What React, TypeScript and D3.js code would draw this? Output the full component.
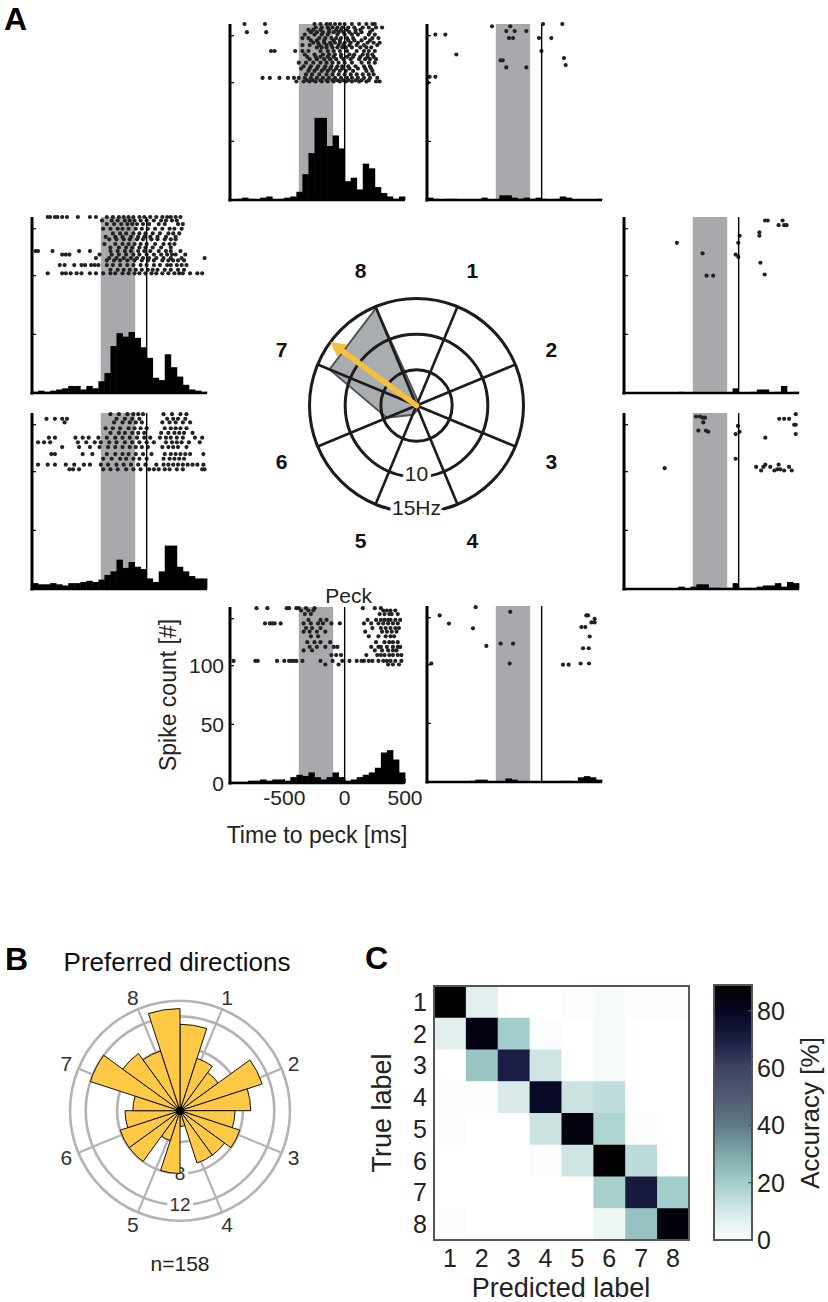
import React from "react";
import * as d3 from "d3";

const FONT = "'Liberation Sans', Arial, Helvetica, sans-serif";

// ---------------- Panel A data ----------------
const timeStart = -950;
const timeEnd = 500;
const binWidth = 50;
const cueWindow = [-380, -95];
const countMax = 150;
const rasterBase = 100;
const yTicksSmall = [50, 100, 140];
const yTicksLabeled = [0, 50, 100];
const xTicksLabeled = [-500, 0, 500];

const histDir1 = [2,1,0,1,1,0,0,0,0,2,0,0,4,4,2,1,2,1,2,1,0,1,3,2,0,0,0,0,1];
const histDir2 = [0,0,0,0,0,0,0,0,0,1,0,0,0,0,0,0,0,0,4,0,0,1,3,3,0,1,6,0,1];
const histDir3 = [0,0,0,0,0,0,0,0,0,2,0,2,4,4,1,1,0,1,5,0,1,1,2,3,3,5,2,6,5];
const histDir4 = [0,0,0,0,0,0,0,1,2,2,0,0,0,3,2,0,0,0,0,0,0,0,1,1,0,4,5,4,2];
const histDir5 = [1,1,1,2,2,3,2,3,3,2,5,7,6,9,5,3,5,9,5,2,3,5,7,9,13,26,28,20,9];
const histDir6 = [5,4,4,5,4,3,5,5,6,7,6,8,12,15,25,18,23,19,17,9,6,15,37,37,19,15,11,9,9];
const histDir7 = [1,2,1,2,3,4,6,6,3,6,4,10,17,40,51,48,52,47,39,30,13,11,33,22,14,7,3,2,1];
const histDir8 = [0,1,2,1,0,2,3,0,1,2,3,7,22,40,70,70,46,55,44,16,19,9,31,27,11,6,3,1,3];

// raster: [trial number, spike times (ms)]
const rasterDir8: [number, number[]][] = [
  [50, [-830,-660,-250,-200,-150,-120,-80,-40,0,60,120,180,230,250]],
  [47, [-240,-190,-140,-100,-60,-20,30,80,150,200,260,310]],
  [45, [-300,-260,-200,-130,-70,-30,20,90,130,230]],
  [43, [-810,-650,-280,-230,-180,-130,-90,-50,-10,40,90,140,210]],
  [41, [-330,-250,-190,-140,-60,0,60,110,200,250]],
  [38, [-350,-300,-210,-160,-110,-70,-30,20,70,170,230,280]],
  [36, [-280,-230,-170,-90,-40,30,80,140,210]],
  [34, [-260,-220,-170,-120,-80,-40,0,50,110,190,240,290]],
  [32, [-350,-290,-210,-150,-110,-50,-10,40,100,160,270]],
  [30, [-230,-190,-150,-100,-60,-20,10,60,130,180,220]],
  [27, [-610,-580,-410,-350,-300,-200,-140,-90,-40,20,100,160,200,250]],
  [24, [-330,-250,-180,-130,-80,-30,40,80,150,190,230]],
  [22, [-310,-240,-200,-140,-90,-30,20,70,130,190,240]],
  [20, [-290,-230,-170,-120,-70,-10,50,120,170,210,260]],
  [17, [-380,-320,-260,-200,-150,-100,-50,0,60,140,200,250]],
  [14, [-340,-280,-220,-160,-110,-60,-20,30,90,160,210]],
  [12, [-360,-290,-230,-170,-120,-70,-20,40,110,170,220]],
  [10, [-300,-250,-190,-140,-90,-40,10,70,180,230]],
  [7, [-320,-270,-210,-150,-100,-50,0,50,100,150,200,240]],
  [4, [-680,-620,-540,-470,-420,-380,-330,-280,-230,-180,-130,-80,-30,20,60,110,160,210,270]],
  [2, [-310,-260,-200,-150,-100,-60,-10,30,90,140,200]],
  [1, [-400,-340,-290,-240,-190,-140,-90,-40,10,60,120,180,260,290]],
];
const rasterDir7: [number, number[]][] = [
  [50, [-820,-800,-760,-740,-700,-660,-570,-470,-420,-330,-280,-230,-190,-150,-110,-60,-20,30,80,130,170,200,240,280]],
  [47, [-370,-290,-240,-180,-140,-100,-50,0,60,120,160,210,250]],
  [44, [-330,-270,-210,-160,-120,-80,-30,20,100,150,260,300]],
  [40, [-360,-300,-240,-200,-150,-90,-40,10,70,130,190,230,290]],
  [36, [-280,-220,-170,-110,-60,-10,50,110,180,220,270]],
  [33, [-340,-260,-200,-130,-70,-20,30,90,160,240]],
  [31, [-310,-250,-190,-140,-80,-30,40,90,150,200,240]],
  [27, [-350,-260,-200,-150,-100,-50,0,70,140,190,230]],
  [24, [-300,-230,-170,-120,-60,-10,50,120,200]],
  [21, [-920,-900,-780,-560,-470,-300,-240,-180,-130,-70,-20,30,100,160,200,280]],
  [18, [-700,-670,-640,-390,-290,-230,-170,-110,-60,0,60,120,170,210,240,320]],
  [15, [-420,-310,-250,-190,-130,-80,-30,20,80,140,200,290,480]],
  [13, [-330,-270,-220,-160,-100,-40,10,60,130,180,220,260,310]],
  [9, [-720,-680,-600,-540,-510,-460,-430,-400,-330,-280,-220,-160,-110,-50,0,60,110,170,200,250,290,330]],
  [5, [-300,-240,-190,-140,-90,-40,10,50,90,150,200,260,310]],
  [2, [-820,-700,-670,-630,-580,-540,-470,-420,-360,-300,-260,-200,-150,-100,-60,-10,40,80,130,180,230,270,300,360,420,460]],
];
const rasterDir6: [number, number[]][] = [
  [49, [-300,-230,-160,-110,-70,-30,140,210,280,330]],
  [45, [-830,-760,-700,-660,-250,-180,-120,-60,170,220,260,320]],
  [42, [-680,-270,-200,-140,-90,-40,130,190,240,300,360]],
  [37, [-340,-280,-220,-150,-100,-50,0,150,200,240,280,330]],
  [33, [-300,-230,-180,-120,-70,-20,120,180,230,270,310,380]],
  [29, [-810,-760,-590,-530,-480,-400,-330,-260,-200,-140,-80,-20,30,110,160,200,250,300,400,460]],
  [25, [-900,-850,-800,-570,-500,-430,-380,-310,-250,-180,-120,-60,0,60,160,210,250,290,350,440]],
  [21, [-700,-560,-470,-390,-320,-260,-200,-140,-90,-40,10,130,180,220,260,330]],
  [15, [-790,-760,-530,-450,-330,-260,-200,-150,-90,-30,40,150,200,240,280,320,360,470]],
  [11, [-360,-290,-220,-170,-110,-60,0,140,190,230,270,310]],
  [6, [-900,-820,-760,-670,-600,-520,-470,-380,-320,-250,-190,-130,-70,-10,80,140,180,220,260,300,340,380,420,470]],
  [2, [-640,-610,-560,-360,-300,-240,-170,-110,-50,20,60,100,150,190,250,300,460,480]],
];
const rasterDir5: [number, number[]][] = [
  [49, [-730,-640,-480,-460,-400,-380,-320,-250,150,250,300]],
  [47, [-360,-300,-260,320,350,380,420]],
  [44, [-330,-280,290,330,370,390,440]],
  [39, [-300,-200,-150,190,260,300,330,360,380,420,460]],
  [36, [-660,-620,-600,-580,-530,-340,-280,-220,-180,-110,-40,160,220,280,320,360,400,440]],
  [32, [-320,-270,-200,230,300,340,380,420,450]],
  [29, [-340,-290,-230,-160,170,310,350,390,430]],
  [25, [-280,-220,200,280,340,380,410]],
  [20, [-310,-250,-200,-120,260,330,370,400,440]],
  [16, [-290,-230,-160,-90,-60,220,280,300,350,400,440,460]],
  [13, [-340,-270,250,310,360,400,430]],
  [9, [-110,-70,-30,180,270,300,330,370,400,440,470]],
  [4, [-920,-740,-720,-560,-500,-460,-440,-420,-400,-350,-200,-100,-20,40,100,140,160,200,230,280,320,350,380,420,470]],
  [1, [-160,-50,360,400,450]],
];
const rasterDir1: [number, number[]][] = [
  [50, [11, 171]], [48, [-411, -260]], [44, [-293, -224, -127]], [41, [-881, -798]],
  [38, [-271, -237, -22, 80]], [27, [-2]], [24, [-707]], [21, [185]], [19, [-340, -323]],
  [15, [199]], [13, [-293, -127]], [5, [-928, -881]], [0, [-942]],
];
const rasterDir2: [number, number[]][] = [
  [47, [219, 241, 364]], [43, [331, 377, 397]], [37, [172]], [34, [8, 172]], [28, [-512, -3]],
  [19, [-299]], [18, [-25]], [16, [-3]], [11, [180]], [1, [216]], [0, [-266, -211]],
];
const rasterDir3: [number, number[]][] = [
  [49, [473]], [47, [-353, -320]], [46, [-299, -279]], [45, [336, 377, 418]], [42, [-293]],
  [40, [460, 473]], [39, [-6]], [35, [-334, -271]], [34, [-252, 8]], [32, [-25, 473]],
  [29, [221]], [11, [-25]], [6, [221, 331]], [4, [145, 205, 262, 418]], [3, [-613]],
  [2, [320, 345]], [1, [186, 296, 377, 440]],
];
const rasterDir4: [number, number[]][] = [
  [49, [-547]], [45, [-260]], [42, [-845, 370, 384]], [39, [439]], [36, [412, 439]],
  [35, [-768]], [32, [329, 362]], [31, [-569]], [24, [398]], [18, [-340, -237]],
  [16, [-458]], [14, [343, 390]], [1, [-914, -265, 323, 392]], [0, [177, 224]],
];

const directionLabels = ["1", "2", "3", "4", "5", "6", "7", "8"];
const tuningHz = [0.6, 0.4, 0.4, 0.6, 1.4, 4.5, 13.2, 14.8]; // directions 1..8
const polarRingsHz = [5, 10, 15];

// ---------------- Panel B data ----------------
const prefDirCounts = [11,7,6,11,9,7,8,7,7,2,8,4,8,8,7,6,12,9,8,13]; // 18° bins clockwise from top
const prefRings = [4, 8, 12];
const prefRingLabels = [8, 12];
const prefRMax = 14;
const nCells = 158;

// ---------------- Panel C data ----------------
const classLabels = ["1", "2", "3", "4", "5", "6", "7", "8"];
const accuracy = [
  [89, 7, 0, 0, 1, 2, 1, 1],
  [7, 84, 20, 1, 0, 2, 0, 0],
  [0, 22, 70, 11, 0, 2, 0, 0],
  [1, 1, 9, 78, 12, 14, 0, 0],
  [1, 0, 0, 12, 85, 17, 1, 0],
  [0, 0, 0, 1, 11, 88, 15, 0],
  [0, 0, 0, 0, 0, 19, 72, 20],
  [1, 0, 0, 0, 0, 4, 23, 86],
];
const cbarTicks = [0, 20, 40, 60, 80];
const cbarMax = 89;
const cmapStops = [0, 10, 20, 30, 40, 50, 60, 70, 80, 89];
const cmapColors = ["#ffffff", "#d4e8e7", "#a2cdca", "#7ea9ab", "#5f7988", "#4e5b73", "#3f4363", "#1b1e44", "#05061f", "#000000"];

// ---------------- layout ----------------
const panelLayout = [
  { hist: histDir8, raster: rasterDir8, left: 230, bottom: 200 },
  { hist: histDir1, raster: rasterDir1, left: 427, bottom: 200 },
  { hist: histDir7, raster: rasterDir7, left: 32, bottom: 393 },
  { hist: histDir2, raster: rasterDir2, left: 624, bottom: 393 },
  { hist: histDir6, raster: rasterDir6, left: 32, bottom: 589 },
  { hist: histDir3, raster: rasterDir3, left: 624, bottom: 589 },
  { hist: histDir5, raster: rasterDir5, left: 230, bottom: 783, labeled: true },
  { hist: histDir4, raster: rasterDir4, left: 427, bottom: 782 },
];
const PW = 175;
const PH = 176;

function RasterPanel({ hist, raster, left, bottom, labeled }: any) {
  const x = d3.scaleLinear().domain([timeStart, timeEnd]).range([left, left + PW]);
  const y = d3.scaleLinear().domain([0, countMax]).range([bottom, bottom - PH]);
  return (
    <g>
      <rect x={x(cueWindow[0])} y={y(countMax)} width={x(cueWindow[1]) - x(cueWindow[0])}
        height={y(0) - y(countMax)} fill="#a7a9ac" />
      {hist.map((v: number, i: number) => {
        const t0 = timeStart + i * binWidth;
        return <rect key={i} x={x(t0)} y={y(v)} width={x(t0 + binWidth) - x(t0) + 0.4}
          height={y(0) - y(v)} fill="#000" />;
      })}
      {raster.flatMap(([trial, times]: [number, number[]]) =>
        times.map((t, j) => (
          <circle key={trial + "-" + j} cx={x(t)} cy={y(rasterBase + trial)} r={2.1} fill="#222" />
        ))
      )}
      <line x1={x(0)} x2={x(0)} y1={y(countMax)} y2={y(0)} stroke="#000" strokeWidth={1.4} />
      <line x1={left} x2={left} y1={y(0) + 1.5} y2={y(countMax)} stroke="#000" strokeWidth={3} />
      <line x1={left - 1.5} x2={left + PW} y1={y(0)} y2={y(0)} stroke="#000" strokeWidth={2.6} />
      {yTicksSmall.map((t) => (
        <line key={t} x1={left} x2={left + 4} y1={y(t)} y2={y(t)} stroke="#000" strokeWidth={1.2} />
      ))}
      {labeled && (
        <g fontFamily={FONT} fill="#222">
          {yTicksLabeled.map((t) => (
            <text key={t} x={left - 6} y={y(t) + 7.5} fontSize={21} textAnchor="end">{t}</text>
          ))}
          {xTicksLabeled.map((t) => (
            <g key={t}>
              <line x1={x(t)} x2={x(t)} y1={y(0)} y2={y(0) - 4} stroke="#000" strokeWidth={1.2} />
              <text x={x(t)} y={805} fontSize={21} textAnchor="middle">{t}</text>
            </g>
          ))}
          <text x={x(0) + 4} y={603} fontSize={21} textAnchor="middle">Peck</text>
          <text transform={`translate(176,${(y(0) + y(countMax)) / 2}) rotate(-90)`} fontSize={23}
            textAnchor="middle">Spike count [#]</text>
          <text x={317} y={843} fontSize={23} textAnchor="middle">Time to peck [ms]</text>
        </g>
      )}
    </g>
  );
}

function TuningPolar() {
  const cx = 416.5, cy = 405.5;
  const r = d3.scaleLinear().domain([0, 15]).range([0, 107]);
  const ang = (k: number) => ((k + 1) * 45 - 22.5) * Math.PI / 180; // k index 0..7 -> dir 1..8
  const poly = d3.lineRadial<number>().angle((_, i) => ang(i)).radius((d) => r(d)).curve(d3.curveLinearClosed)(tuningHz) || "";
  let sx = 0, sy = 0;
  tuningHz.forEach((v, i) => { sx += v * Math.sin(ang(i)); sy += v * Math.cos(ang(i)); });
  const pa = Math.atan2(sx, sy);
  const R = r(15);
  const ux = Math.sin(pa), uy = -Math.cos(pa);
  const tipX = R * ux, tipY = R * uy;
  const headL = 15, headW = 8;
  const bx = (R - headL) * ux, by = (R - headL) * uy;
  const px = -uy, py = ux;
  return (
    <g transform={`translate(${cx},${cy})`}>
      <path d={poly} fill="#a9adb0" stroke="#4f565a" strokeWidth={2} />
      {polarRingsHz.map((h) => (
        <circle key={h} r={r(h)} fill="none" stroke="#1c1c1c" strokeWidth={3} />
      ))}
      {directionLabels.map((_, i) => (
        <line key={i} x1={0} y1={0} x2={R * Math.sin(ang(i))} y2={-R * Math.cos(ang(i))} stroke="#1c1c1c" strokeWidth={2.6} />
      ))}
      <g fontFamily={FONT} fontSize={21} textAnchor="middle" fill="#222"
        stroke="#fff" strokeWidth={7} style={{ paintOrder: "stroke" } as any}>
        <text x={0} y={r(10) - 3} dominantBaseline="central">10</text>
        <text x={0} y={r(15) - 5} dominantBaseline="central">15Hz</text>
      </g>
      <line x1={0} y1={0} x2={bx + 2 * ux} y2={by + 2 * uy} stroke="#f6bf3c" strokeWidth={5.5} strokeLinecap="round" />
      <polygon points={`${tipX},${tipY} ${bx + px * headW},${by + py * headW} ${bx - px * headW},${by - py * headW}`} fill="#f6bf3c" />
      <g fontFamily={FONT} fontSize={21} fontWeight="bold" textAnchor="middle" fill="#111">
        {directionLabels.map((lab, i) => (
          <text key={lab} x={146 * Math.sin(ang(i))} y={-146 * Math.cos(ang(i))} dominantBaseline="central">{lab}</text>
        ))}
      </g>
    </g>
  );
}

function PrefRose() {
  const cx = 180, cy = 1110.7;
  const r = d3.scaleLinear().domain([0, prefRMax]).range([0, 110]);
  const n = prefDirCounts.length;
  const arc = d3.arc<any>();
  const ang = (k: number) => ((k + 1) * 45 - 22.5) * Math.PI / 180; // dir index 0..7 -> 1..8
  return (
    <g transform={`translate(${cx},${cy})`}>
      {[...prefRings, prefRMax].map((v) => (
        <circle key={v} r={r(v)} fill="none" stroke="#b3b3b3" strokeWidth={2.6} />
      ))}
      {directionLabels.map((_, i) => (
        <line key={i} x1={0} y1={0} x2={r(prefRMax) * Math.sin(ang(i))} y2={-r(prefRMax) * Math.cos(ang(i))} stroke="#b3b3b3" strokeWidth={2.2} />
      ))}
      <g fontFamily={FONT} fontSize={19} textAnchor="middle" fill="#333" stroke="#fff" strokeWidth={8} style={{ paintOrder: "stroke" } as any}>
        {prefRingLabels.map((v) => (
          <text key={v} x={0} y={r(v)} dominantBaseline="central">{v}</text>
        ))}
      </g>
      {prefDirCounts.map((v, i) => (
        <path key={i} d={arc({ innerRadius: 0, outerRadius: r(v), startAngle: (i * 2 * Math.PI) / n, endAngle: ((i + 1) * 2 * Math.PI) / n }) || ""}
          fill="#ffc845" stroke="#111" strokeWidth={1} />
      ))}
      <circle r={4} fill="#000" />
      <g fontFamily={FONT} fontSize={21} textAnchor="middle" fill="#333">
        {directionLabels.map((lab, i) => (
          <text key={lab} x={123 * Math.sin(ang(i))} y={-123 * Math.cos(ang(i))} dominantBaseline="central">{lab}</text>
        ))}
      </g>
      <text x={0} y={160} fontFamily={FONT} fontSize={21} textAnchor="middle" fill="#222">n={nCells}</text>
    </g>
  );
}

function ConfusionMatrix() {
  const xb = d3.scaleBand().domain(classLabels).range([434, 689]);
  const yb = d3.scaleBand().domain(classLabels).range([986, 1240]);
  const color = d3.scaleLinear<string>().domain(cmapStops).range(cmapColors).interpolate(d3.interpolateRgb).clamp(true);
  const cb = d3.scaleLinear().domain([0, cbarMax]).range([1240, 985]);
  const cbX = 714, cbW = 38;
  return (
    <g fontFamily={FONT}>
      <defs>
        <linearGradient id="cbar" x1="0" y1="1" x2="0" y2="0">
          {cmapStops.map((s, i) => (
            <stop key={s} offset={s / cbarMax} stopColor={cmapColors[i]} />
          ))}
        </linearGradient>
      </defs>
      {accuracy.map((row, i) =>
        row.map((v, j) => (
          <rect key={i + "-" + j} x={xb(classLabels[j])} y={yb(classLabels[i])} width={xb.bandwidth() + 0.5}
            height={yb.bandwidth() + 0.5} fill={color(v)} />
        ))
      )}
      <rect x={434} y={986} width={255} height={254} fill="none" stroke="#555" strokeWidth={2} />
      {classLabels.map((c) => (
        <text key={"r" + c} x={427} y={(yb(c) || 0) + yb.bandwidth() / 2} dominantBaseline="central" textAnchor="end" fontSize={25} fill="#222">{c}</text>
      ))}
      {classLabels.map((c) => (
        <text key={"c" + c} x={(xb(c) || 0) + xb.bandwidth() / 2} y={1267} textAnchor="middle" fontSize={25} fill="#222">{c}</text>
      ))}
      <text x={561} y={1297} textAnchor="middle" fontSize={27} fill="#222">Predicted label</text>
      <text transform="translate(391,1113) rotate(-90)" textAnchor="middle" fontSize={27} fill="#222">True label</text>
      <rect x={cbX} y={cb(cbarMax)} width={cbW} height={cb(0) - cb(cbarMax)} fill="url(#cbar)" stroke="#555" strokeWidth={2} />
      {cbarTicks.map((t) => (
        <g key={t}>
          {t > 0 && <line x1={cbX + cbW - 4} x2={cbX + cbW} y1={cb(t)} y2={cb(t)} stroke="#555" strokeWidth={1.2} />}
          <text x={757} y={cb(t)} dominantBaseline="central" fontSize={25} fill="#222">{t}</text>
        </g>
      ))}
      <text transform="translate(819,1113) rotate(-90)" textAnchor="middle" fontSize={26} fill="#222">Accuracy [%]</text>
    </g>
  );
}

export default function App() {
  return (
    <svg width={828} height={1302} style={{ position: "absolute", left: 0, top: 0 }} xmlns="http://www.w3.org/2000/svg">
      <rect width={828} height={1302} fill="#fff" />
      {panelLayout.map((p, i) => (
        <RasterPanel key={i} {...p} />
      ))}
      <TuningPolar />
      <text x={4} y={30} fontFamily={FONT} fontSize={32} fontWeight="bold" fill="#000">A</text>
      <text x={5} y={970} fontFamily={FONT} fontSize={32} fontWeight="bold" fill="#000">B</text>
      <text x={365} y={969} fontFamily={FONT} fontSize={32} fontWeight="bold" fill="#000">C</text>
      <text x={177} y={971} fontFamily={FONT} fontSize={26} textAnchor="middle" fill="#111">Preferred directions</text>
      <PrefRose />
      <ConfusionMatrix />
    </svg>
  );
}
